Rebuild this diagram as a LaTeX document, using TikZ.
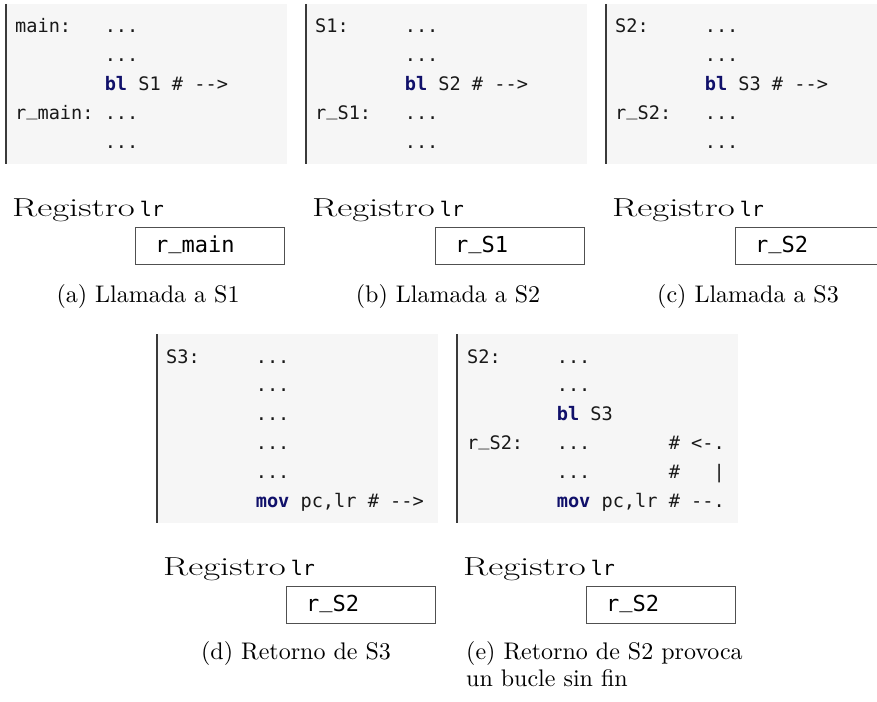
\documentclass[tikz,border=0pt]{standalone}
\usepackage{fontspec}
\setmonofont{DejaVu Sans Mono}
\usepackage{graphicx}
\definecolor{codebg}{HTML}{F6F6F6}
\definecolor{codebar}{HTML}{3A3A3A}
\definecolor{kw}{HTML}{10106A}
\definecolor{boxline}{HTML}{505050}
\tikzset{
 codearea/.style={fill=codebg, draw=none},
 codeedge/.style={draw=codebar, line width=1.3pt},
 codetxt/.style={anchor=base west, inner sep=0pt, font=\fontsize{18.6}{21}\selectfont\ttfamily, text=black!90},
 reglbl/.style={anchor=base west, inner sep=0pt},
 regbox/.style={draw=boxline, line width=0.9pt, anchor=north west, minimum width=149pt, minimum height=37pt, inner sep=0pt},
 regtxt/.style={anchor=base west, inner sep=0pt, font=\fontsize{22}{24}\selectfont\ttfamily},
 capt/.style={anchor=base, inner sep=0pt},
 captl/.style={anchor=base west, inner sep=0pt},
}
\newcommand{\kwd}[1]{\textcolor{kw}{\bfseries #1}}
\newcommand{\us}{\raisebox{0.2em}{\_}}
\newcommand{\reglabel}{\scalebox{1.42}[1]{\fontsize{26}{30}\selectfont Registro}\hspace{5pt}{\fontsize{20}{22}\selectfont\ttfamily lr}}
\newcommand{\capfont}[1]{\scalebox{2.4}{\fontsize{10}{12}\selectfont #1}}
\def\cw{11.2}
\begin{document}
\begin{tikzpicture}[x=1pt,y=-1pt]
\useasboundingbox (0,0) rectangle (877,701);
\clip (0,0) rectangle (877,701);
% ---------- code areas ----------
\fill[codearea] (6,4) rectangle (287,164);
\fill[codearea] (306,4) rectangle (587,164);
\fill[codearea] (606,4) rectangle (887,164);
\fill[codearea] (157,334) rectangle (438,523);
\fill[codearea] (457,334) rectangle (738,523);
\draw[codeedge] (6,4) -- (6,164);
\draw[codeedge] (306,4) -- (306,164);
\draw[codeedge] (606,4) -- (606,164);
\draw[codeedge] (157,334) -- (157,523);
\draw[codeedge] (457,334) -- (457,523);
% ---------- (a) ----------
\node[codetxt] (a1l) at (15,32.5) {main:};
\node[codetxt] (a1r) at ({15+8*\cw},32.5) {...};
\node[codetxt] (a2r) at ({15+8*\cw},61.4) {...};
\node[codetxt] (a3r) at ({15+8*\cw},90.3) {\kwd{bl} S1 \# {-}{-}>};
\node[codetxt] (a4l) at (15,119.2) {r\us main:};
\node[codetxt] (a4r) at ({15+8*\cw},119.2) {...};
\node[codetxt] (a5r) at ({15+8*\cw},148.1) {...};
% ---------- (b) ----------
\node[codetxt] (b1l) at (315,32.5) {S1:};
\node[codetxt] (b1r) at ({315+8*\cw},32.5) {...};
\node[codetxt] (b2r) at ({315+8*\cw},61.4) {...};
\node[codetxt] (b3r) at ({315+8*\cw},90.3) {\kwd{bl} S2 \# {-}{-}>};
\node[codetxt] (b4l) at (315,119.2) {r\us S1:};
\node[codetxt] (b4r) at ({315+8*\cw},119.2) {...};
\node[codetxt] (b5r) at ({315+8*\cw},148.1) {...};
% ---------- (c) ----------
\node[codetxt] (c1l) at (615,32.5) {S2:};
\node[codetxt] (c1r) at ({615+8*\cw},32.5) {...};
\node[codetxt] (c2r) at ({615+8*\cw},61.4) {...};
\node[codetxt] (c3r) at ({615+8*\cw},90.3) {\kwd{bl} S3 \# {-}{-}>};
\node[codetxt] (c4l) at (615,119.2) {r\us S2:};
\node[codetxt] (c4r) at ({615+8*\cw},119.2) {...};
\node[codetxt] (c5r) at ({615+8*\cw},148.1) {...};
% ---------- (d) ----------
\node[codetxt] (d1l) at (166,363) {S3:};
\node[codetxt] (d1r) at ({166+8*\cw},363) {...};
\node[codetxt] (d2r) at ({166+8*\cw},391.9) {...};
\node[codetxt] (d3r) at ({166+8*\cw},420.8) {...};
\node[codetxt] (d4r) at ({166+8*\cw},449.7) {...};
\node[codetxt] (d5r) at ({166+8*\cw},478.6) {...};
\node[codetxt] (d6r) at ({166+8*\cw},507.5) {\kwd{mov} pc,lr \# {-}{-}>};
% ---------- (e) ----------
\node[codetxt] (e1l) at (467,363) {S2:};
\node[codetxt] (e1r) at ({467+8*\cw},363) {...};
\node[codetxt] (e2r) at ({467+8*\cw},391.9) {...};
\node[codetxt] (e3r) at ({467+8*\cw},420.8) {\kwd{bl} S3};
\node[codetxt] (e4l) at (467,449.7) {r\us S2:};
\node[codetxt] (e4r) at ({467+8*\cw},449.7) {...};
\node[codetxt] (e4c) at ({467+18*\cw},449.7) {\# <{-}.};
\node[codetxt] (e5r) at ({467+8*\cw},478.6) {...};
\node[codetxt] (e5c) at ({467+18*\cw},478.6) {\#};
\node[codetxt] (e5p) at ({467+22*\cw},478.6) {|};
\node[codetxt] (e6r) at ({467+8*\cw},507.5) {\kwd{mov} pc,lr \# {-}{-}.};
% ---------- register labels ----------
\node[reglbl] (la) at (12,216) {\reglabel};
\node[reglbl] (lb) at (312,216) {\reglabel};
\node[reglbl] (lc) at (612,216) {\reglabel};
\node[reglbl] (ld) at (163,575) {\reglabel};
\node[reglbl] (le) at (463,575) {\reglabel};
% ---------- register boxes ----------
\node[regbox] (ra) at (135,227) {};
\node[regbox] (rb) at (435,227) {};
\node[regbox] (rc) at (735,227) {};
\node[regbox] (rd) at (286,586) {};
\node[regbox] (re) at (586,586) {};
\node[regtxt] (ta) at (155,252.5) {r\us main};
\node[regtxt] (tb) at (455,252.5) {r\us S1};
\node[regtxt] (tc) at (755,252.5) {r\us S2};
\node[regtxt] (td) at (306,611.5) {r\us S2};
\node[regtxt] (te) at (606,611.5) {r\us S2};
% ---------- captions ----------
\node[capt] (ca) at (148,302) {\capfont{(a) Llamada a S1}};
\node[capt] (cb) at (448,302) {\capfont{(b) Llamada a S2}};
\node[capt] (cc) at (748,302) {\capfont{(c) Llamada a S3}};
\node[capt] (cd) at (296,659) {\capfont{(d) Retorno de S3}};
\node[captl] (ce1) at (466,659) {\capfont{(e) Retorno de S2 provoca}};
\node[captl] (ce2) at (466,686) {\capfont{un bucle sin fin}};
\end{tikzpicture}
\end{document}
